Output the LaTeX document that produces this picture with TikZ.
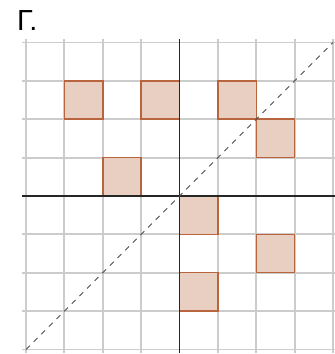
\documentclass[tikz,border=0pt]{standalone}
\usepackage{fontspec}
\usepackage{tikz}
\usetikzlibrary{positioning}
\newfontfamily\labelfont{Liberation Sans}
\definecolor{cellfill}{HTML}{E8CFC2}
\definecolor{celledge}{HTML}{B8653F}
\definecolor{gridgray}{HTML}{CCCCCC}

\begin{document}
\begin{tikzpicture}[
        gridline/.style={gridgray, line width=1.4pt},
        axisline/.style={black!85, line width=1.1pt},
        shaded/.style={fill=cellfill, draw=celledge, line width=1.1pt},
        mirror/.style={black!70, dashed, dash pattern=on 4pt off 4pt, line width=0.7pt}
    ]
            \useasboundingbox (-4.678,-4.117) rectangle (4.026,5.107);

            \draw[gridline] (-4.1,-4.1) grid (4.1,4.1);

            \draw[shaded] (-3,2)  rectangle (-2,3);
            \draw[shaded] (-1,2)  rectangle (0,3);
            \draw[shaded] (1,2)   rectangle (2,3);
            \draw[shaded] (2,1)   rectangle (3,2);
            \draw[shaded] (-2,0)  rectangle (-1,1);
            \draw[shaded] (0,-1)  rectangle (1,0);
            \draw[shaded] (2,-2)  rectangle (3,-1);
            \draw[shaded] (0,-3)  rectangle (1,-2);

            \draw[axisline] (-4.1,0) -- (4.1,0);
            \draw[axisline] (0,-4.1) -- (0,4.1);

            \coordinate (low)  at (-4,-4);
            \coordinate (high) at (4,4);
            \draw[mirror] (low) -- (high);

            \node[anchor=base west, inner sep=0pt] (title) at (-4.24,4.30)
                {\labelfont\fontsize{21.5}{26}\selectfont Г.};
        \end{tikzpicture}
\end{document}
